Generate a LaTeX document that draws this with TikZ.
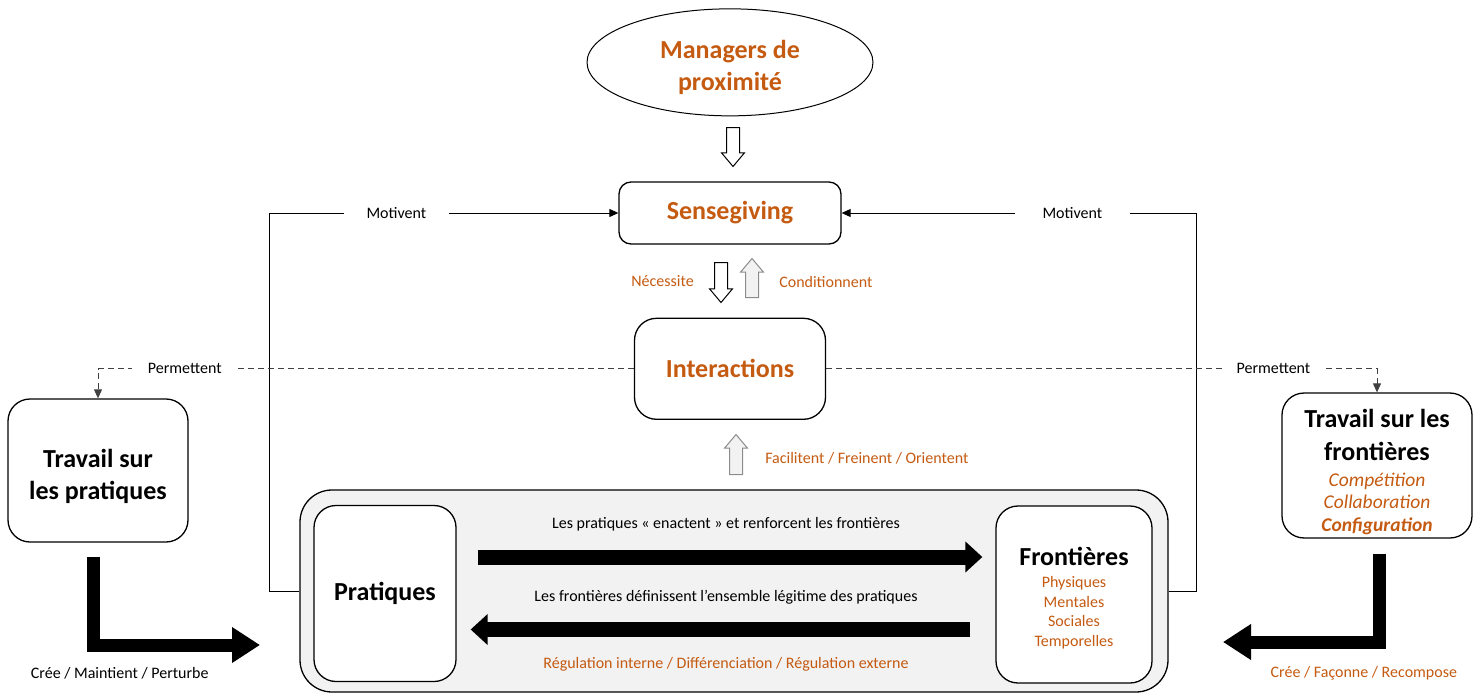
\documentclass[tikz,border=0pt]{standalone}
\usepackage{fontspec}
\setmainfont{Carlito}
\usepackage{tikz}
\usetikzlibrary{arrows,arrows.meta,positioning,shapes.geometric,shapes.arrows}

\definecolor{brique}{HTML}{C55A11}
\definecolor{grisclair}{HTML}{F2F2F2}
\definecolor{grismoyen}{HTML}{8C8C8C}

\newcommand{\fonttitre}{\fontsize{26}{32}\selectfont\bfseries}
\newcommand{\fontetiq}{\fontsize{16}{19.5}\selectfont}
\newcommand{\fontital}{\fontsize{19.5}{23}\selectfont\mdseries\itshape\color{brique}}
\newcommand{\hautligne}[1]{\rule{0pt}{#1}}

\tikzset{
  boite/.style={draw, line width=1.3pt, rounded corners=22pt, fill=white, align=center},
  titre/.style={font=\fonttitre},
  etiq/.style={font=\fontetiq, inner sep=2pt},
  creuse/.style={single arrow, draw, line width=1pt, fill=white, anchor=tail,
                 inner xsep=0pt, inner ysep=6pt, single arrow head extend=5pt,
                 single arrow tip angle=80, minimum height=39pt},
  grisee/.style={creuse, draw=grismoyen, fill=grisclair},
  lien/.style={line width=0.9pt},
  pointille/.style={line width=0.9pt, black!75, dash pattern=on 6pt off 4pt},
  grossefleche/.style={line width=15pt, -{Triangle[length=17pt,width=30pt]}},
  coude/.style={line width=13pt, line join=miter, -{Triangle[length=28pt,width=34pt]}}
}

\begin{document}
\begin{tikzpicture}[x=1pt,y=1pt,>={Triangle[length=9pt,width=8pt]},semithick]
  \useasboundingbox (0,0) rectangle (1481,-693);

  % le cadre gris avec pratiques et frontieres
  \node[boite, fill=grisclair, rounded corners=32pt, minimum width=868pt,
        minimum height=202pt] (cadre) at (734,-591) {};
  \node[boite, titre, minimum width=142pt, minimum height=176pt,
        right=14pt of cadre.west, yshift=-2.5pt] (prat) {Pratiques};
  \node[boite, font=\fontetiq, text=brique, minimum width=156pt, minimum height=177pt,
        left=16pt of cadre.east, yshift=-3.5pt] (front)
        {{\fonttitre\color{black}\hautligne{26pt}Frontières}\\[2.5pt]Physiques\\Mentales\\Sociales\\Temporelles};

  % le haut
  \node[boite, titre, text=brique, rounded corners=12pt, minimum width=222pt,
        minimum height=62pt] (sense) at (730,-213) {Sensegiving};
  \node[ellipse, draw, line width=1pt, titre, text=brique, align=center,
        minimum width=286pt, minimum height=107pt, above=65pt of sense] (mgr)
        {\hautligne{28pt}Managers de\\proximité};
  \node[boite, titre, text=brique, minimum width=191pt, minimum height=101pt,
        below=73pt of sense] (inter) {Interactions};

  % les deux travaux
  \node[boite, titre, minimum width=180pt, minimum height=143pt] (tp)
        at (98,-470.5) {\hautligne{31pt}Travail sur\\les pratiques};
  \node[boite, font=\fontsize{26}{33}\selectfont\bfseries, minimum width=190pt,
        minimum height=139pt] (tf) at (1377,-465.5)
        {\hautligne{31pt}Travail sur les\\frontières\\[-7pt]{\fontital Compétition}\\[-11pt]{\fontital Collaboration}\\[-10pt]{\fontital\bfseries Configuration}};

  % fleches creuses
  \node[creuse, rotate=-90] (f1) at (733,-127) {};
  \node[creuse, rotate=-90, minimum height=40pt] (nec) at (721,-262) {};
  \node[grisee, rotate=90] (cond) at (752,-298) {};
  \node[grisee, rotate=90, minimum height=40pt] (fac) at (736,-475) {};
  \node[etiq, text=brique, left=25pt of nec.center, yshift=-2pt] (lnec) {Nécessite};
  \node[etiq, text=brique, right=25pt of cond.center] (lcond) {Conditionnent};
  \node[etiq, text=brique, right=27pt of fac.center] (lfac) {Facilitent / Freinent / Orientent};

  % motivent
  \draw[lien,->] (cadre.west) -- ++(-30,0) |- node[etiq, pos=0.682, fill=white,
        inner xsep=23pt] (mot1) {Motivent} (sense.west);
  \draw[lien,->] (cadre.east) -- ++(28,0) |- node[etiq, pos=0.675, fill=white,
        inner xsep=28pt] (mot2) {Motivent} (sense.east);

  % permettent
  \draw[pointille,->] (inter.west) -| node[etiq, text=black, pos=0.419, fill=white,
        inner xsep=16pt] (perm1) {Permettent} (tp.north);
  \draw[pointille,->] (inter.east) -| node[etiq, text=black, pos=0.406, fill=white,
        inner xsep=15pt] (perm2) {Permettent} (tf.north);

  % grosses fleches entre pratiques et frontieres
  \draw[grossefleche, shorten <=21pt, shorten >=13pt] ([yshift=36.5pt]prat.east)
        -- ([yshift=36.5pt]prat.east -| front.west)
        node[etiq, midway, above=16pt] (enact) {Les pratiques « enactent » et renforcent les frontières};
  \draw[grossefleche, shorten <=25pt, shorten >=14pt] ([yshift=-36pt]prat.east -| front.west)
        -- ([yshift=-36pt]prat.east)
        node[etiq, midway, above=15.5pt] (defin) {Les frontières définissent l’ensemble légitime des pratiques}
        node[etiq, midway, below=18.5pt, text=brique] (regul) {Régulation interne / Différenciation / Régulation externe};

  % fleches coudees
  \coordinate (bout1) at (260,-645);
  \coordinate (bout2) at (1223,-642);
  \draw[coude] ([xshift=-5pt,yshift=-14pt]tp.south) |- (bout1)
        node[etiq, pos=0.58, below=14pt] (cmp) {Crée / Maintient / Perturbe};
  \draw[coude] ([xshift=2.5pt,yshift=-15pt]tf.south) |- (bout2)
        node[etiq, pos=0.55, below=16pt, text=brique] (cfr) {Crée / Façonne / Recompose};
\end{tikzpicture}
\end{document}
